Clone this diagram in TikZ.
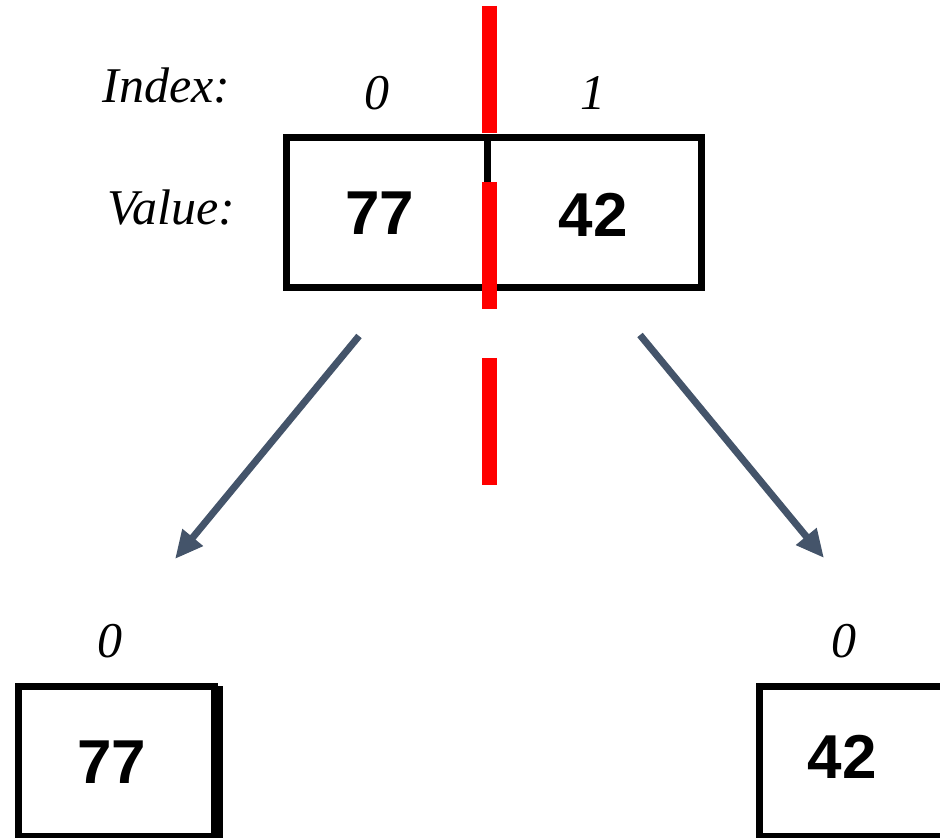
\documentclass[tikz,border=0pt]{standalone}
\usepackage{fontspec}
\setmainfont{Liberation Serif}
\newfontfamily\valfont{Liberation Sans}
\usetikzlibrary{arrows.meta,positioning}
\definecolor{arrowgray}{HTML}{44546A}
\tikzset{
    cell/.style={draw, line width=3.5pt, inner sep=0pt, outer sep=0pt, minimum height=75.25pt},
    val/.style={font=\valfont\bfseries\fontsize{31}{36}\selectfont, inner sep=0pt},
    idx/.style={font=\itshape\fontsize{25}{30}\selectfont, inner sep=0pt, anchor=base},
    split/.style={draw=arrowgray, line width=3.5pt, -{Triangle[length=14pt,width=12.5pt]}},
}
\begin{document}
\begin{tikzpicture}[x=0.5pt,y=-0.5pt]
            \useasboundingbox (0,0) rectangle (940,838);
            \node[idx, anchor=base west] (idxlabel) at (102,103) {Index:};
            \node[idx, anchor=base west] (vallabel) at (107,225) {Value:};
            \node[cell, minimum width=100.25pt] (cell0) at (386.75,212.75) {};
            \node[cell, minimum width=107.25pt, right=0pt of cell0] (cell1) {};
            \node[val] (val0) at (380,213) {77};
            \node[val] (val1) at (593,215) {42};
            \node[idx] (idx0) at (377,110) {0};
            \node[idx] (idx1) at (593,110) {1};
            \draw[red, line width=7.5pt, dash pattern=on 63.5pt off 24.5pt] (489.5,6) -- (489.5,486);
            \coordinate (fromL) at (359,336);
            \coordinate (toL) at (175,559);
            \coordinate (fromR) at (640,335);
            \coordinate (toR) at (824,558);
            \draw[split] (fromL) -- (toL);
            \draw[split] (fromR) -- (toR);
            \node[cell, minimum width=98pt, minimum height=75pt] (boxL) at (116.5,761) {};
            \draw[line width=2.5pt] ([xshift=3pt]boxL.north east) -- ([xshift=3pt,yshift=-2pt]boxL.south east);
            \node[cell, minimum width=98pt, minimum height=75pt] (boxR) at (857,761.25) {};
            \node[val] (left0) at (112,762) {77};
            \node[val] (right0) at (842,757) {42};
            \node[idx] (idxL) at (109.5,657) {0};
            \node[idx] (idxR) at (844,657) {0};
        \end{tikzpicture}
\end{document}
